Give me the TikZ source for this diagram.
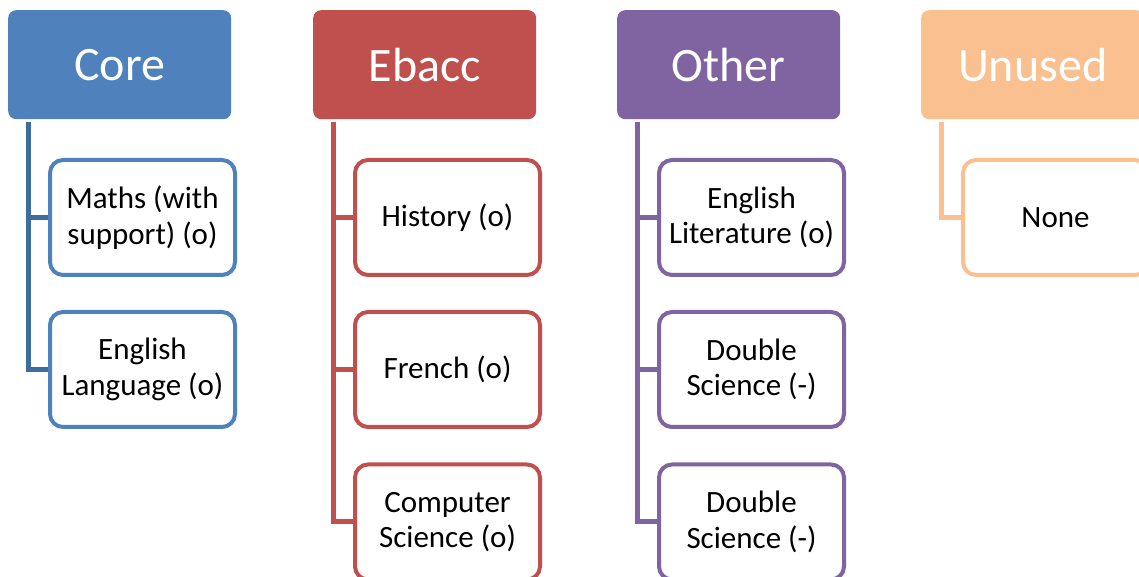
\documentclass[tikz,border=0pt]{standalone}
\usepackage{fontspec}
\setmainfont{Carlito}
\begin{document}
\begin{tikzpicture}[x=1pt,y=1pt,
  header/.style={draw=none,fill=#1,rounded corners=8pt,minimum width=223pt,minimum height=109pt,
    text=white,font=\fontsize{48}{57}\selectfont,anchor=north west,inner sep=0pt},
  child/.style={draw=#1,line width=4pt,fill=white,rounded corners=13pt,minimum width=185pt,
    minimum height=115pt,text width=182pt,align=flush center,font=\fontsize{31}{35.5}\selectfont,
    anchor=west,inner sep=0pt},
  trunk/.style={draw=#1,line width=5pt}]
\definecolor{coreC}{HTML}{4F81BD}
\definecolor{coreL}{HTML}{3F6C9F}
\definecolor{ebaccC}{HTML}{C0504D}
\definecolor{otherC}{HTML}{8064A2}
\definecolor{unusedC}{HTML}{FAC090}
\useasboundingbox (0,0) rectangle (1139,577);
\clip (0,0) rectangle (1139,577);

% column headers
\node[header=coreC]   (core)   at (8,567)   {Core};
\node[header=ebaccC]  (ebacc)  at (313,567) {Ebacc};
\node[header=otherC]  (other)  at (617,567) {Other};
\node[header=unusedC] (unused) at (921,567) {Unused};

% Core column
\node[child=coreC] (c1) at (48,359.5) {Maths (with\\support) (o)};
\node[child=coreC] (c2) at (48,207.5) {English\\Language (o)};
\coordinate (ct) at ([xshift=20.5pt,yshift=-3pt]core.south west);
\draw[trunk=coreL] (ct) |- (c2.west);
\draw[trunk=coreL] (ct |- c1.west) -- (c1.west);

% Ebacc column
\node[child=ebaccC] (e1) at (353,359.5) {History (o)};
\node[child=ebaccC] (e2) at (353,207.5) {French (o)};
\node[child=ebaccC] (e3) at (353,55) {Computer\\Science (o)};
\coordinate (et) at ([xshift=20.5pt,yshift=-3pt]ebacc.south west);
\draw[trunk=ebaccC] (et) |- (e3.west);
\draw[trunk=ebaccC] (et |- e1.west) -- (e1.west);
\draw[trunk=ebaccC] (et |- e2.west) -- (e2.west);

% Other column
\node[child=otherC] (o1) at (657,359.5) {English\\Literature (o)};
\node[child=otherC] (o2) at (657,207.5) {Double\\Science (-)};
\node[child=otherC] (o3) at (657,55) {Double\\Science (-)};
\coordinate (ot) at ([xshift=20.5pt,yshift=-3pt]other.south west);
\draw[trunk=otherC] (ot) |- (o3.west);
\draw[trunk=otherC] (ot |- o1.west) -- (o1.west);
\draw[trunk=otherC] (ot |- o2.west) -- (o2.west);

% Unused column
\node[child=unusedC] (u1) at (961,359.5) {None};
\coordinate (ut) at ([xshift=20.5pt,yshift=-3pt]unused.south west);
\draw[trunk=unusedC] (ut) |- (u1.west);
\end{tikzpicture}
\end{document}
